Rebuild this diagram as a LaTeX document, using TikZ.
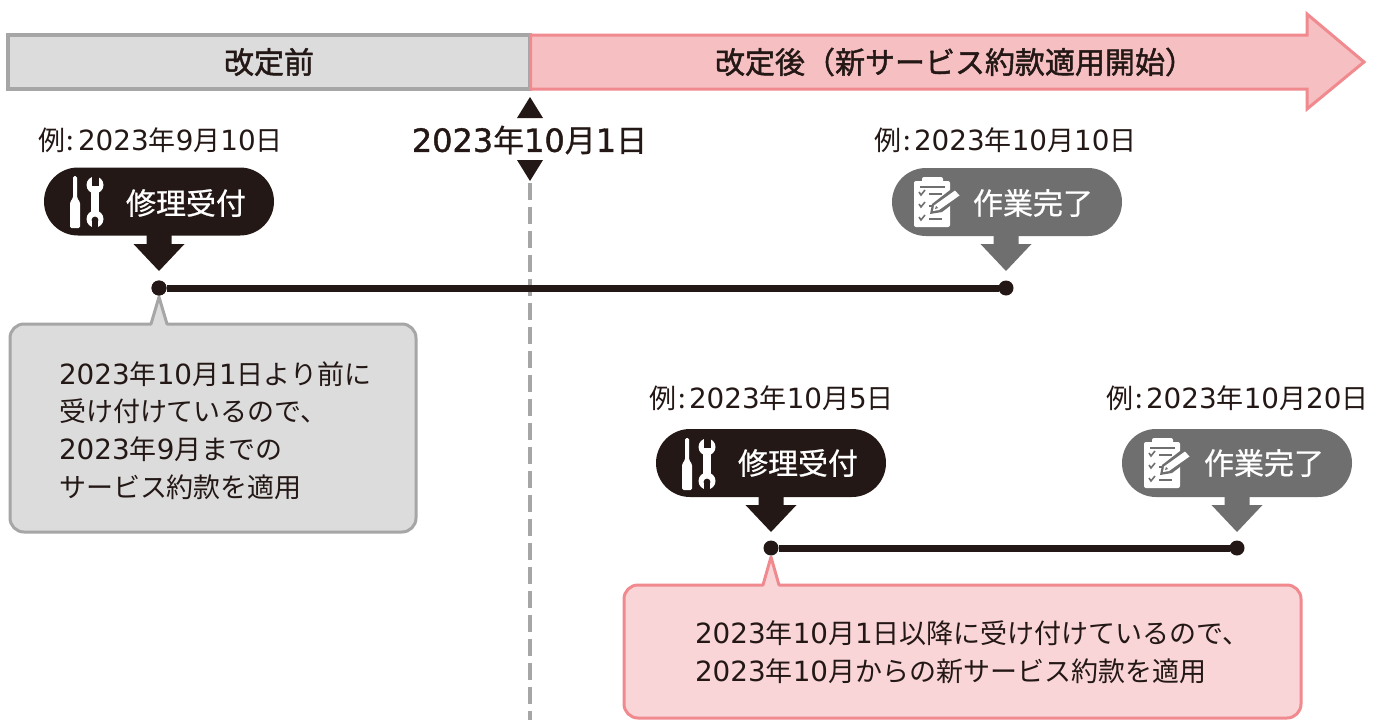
\documentclass[tikz,border=0pt]{standalone}
\usepackage{fontspec}
\setmainfont{Noto Sans CJK JP}
\newfontfamily\medf[FakeBold=1.5]{Noto Sans CJK JP}
\newfontfamily\semif[FakeBold=0.7]{Noto Sans CJK JP}
\newfontfamily\digf[Scale=1.03]{DejaVu Sans}
\newfontfamily\meddig[FakeBold=1.2,Scale=1.03]{DejaVu Sans}
\newcommand{\Dg}[1]{{\digf #1}}
\newcommand{\Dm}[1]{{\meddig #1}}
\newcommand{\Rei}{例\hspace{2pt}:\hspace{3.5pt}}
\usetikzlibrary{calc}
\definecolor{ink}{HTML}{231815}
\definecolor{midgray}{HTML}{6F6F6F}
\definecolor{linegray}{HTML}{A6A6A6}
\definecolor{fillgray}{HTML}{DCDCDC}
\definecolor{linepink}{HTML}{F08A8F}
\definecolor{barpink}{HTML}{F6C0C3}
\definecolor{boxpink}{HTML}{F9D5D8}
\tikzset{
  x=1pt,y=-1pt,
  every node/.style={inner sep=0pt,outer sep=0pt,text=ink},
  datetext/.style={font=\fontsize{27}{30}\selectfont,anchor=west},
  bodytext/.style={font=\fontsize{27}{37.6}\selectfont,align=left,anchor=west},
  bartext/.style={font=\fontsize{30}{32}\medf},
  pilltext/.style={font=\fontsize{30}{32}\semif,text=white},
  darkpill/.style={draw=none,fill=ink,rounded corners=34pt,minimum width=230pt,minimum height=68pt},
  graypill/.style={draw=none,fill=midgray,rounded corners=34pt,minimum width=230pt,minimum height=68pt},
  spanline/.style={line width=7pt,draw=ink},
  dotnode/.style={circle,fill=ink,minimum size=15pt},
  tool/.pic={
    % screwdriver
    \fill[white,rounded corners=1.5pt] (29,9) -- (33,9) -- (33,31) -- (36,35) -- (36,61) -- (26,61) -- (26,35) -- (29,31) -- cycle;
    % wrench
    \fill[white] (47,20) rectangle (55,50);
    \fill[white] (51,18) circle (8.5);
    \fill[white] (51,52) circle (8.5);
    \fill[ink] (47.5,9) rectangle (54.5,19);
    \fill[ink] (51,53) circle (3.4);
    \fill[ink] (48,53) rectangle (54,62);
  },
  clip board/.pic={
    \fill[white,rounded corners=2pt] (22,13) rectangle (58,59);
    \fill[white,rounded corners=2pt] (30,9) rectangle (51,18);
    \fill[midgray] (28,17.5) rectangle (53,19.5);
    \draw[midgray,line width=1.6pt] (27,24) -- (29,27) -- (33,22);
    \draw[midgray,line width=1.6pt] (27,36) -- (29,39) -- (33,34);
    \draw[midgray,line width=1.6pt] (27,49) -- (29,52) -- (33,47);
    \draw[midgray,line width=1.6pt] (37,26) -- (50,26);
    \draw[midgray,line width=1.6pt] (37,38) -- (42,38);
    \draw[midgray,line width=1.6pt] (37,51) -- (50,51);
    \fill[midgray] (38,46) -- (40,36) -- (62,19) -- (71,28) -- (50,44) -- cycle;
    \fill[white] (41,43) -- (42,37.5) -- (63,22.5) -- (67.5,27.5) -- (47,42) -- cycle;
    \fill[midgray] (43,41) -- (44,38) -- (46,40) -- cycle;
  },
}
\newcommand{\downarrowshape}[3]{% x, top y, colour
  \fill[#3] (#1-12.5,#2) -- (#1+12.5,#2) -- (#1+12.5,#2+9) -- (#1+25.5,#2+9) -- (#1,#2+36) -- (#1-25.5,#2+9) -- (#1-12.5,#2+9) -- cycle;
}
\begin{document}
\begin{tikzpicture}
\useasboundingbox (0,0) rectangle (1382,720);
\fill[white] (0,0) rectangle (1382,720);

% dashed boundary
\coordinate (dashtop) at (530,183);
\coordinate (dashend) at (530,720);
\draw[linegray,line width=3.5pt,dash pattern=on 17pt off 7pt] (dashtop) -- (dashend);

% top bar
\draw[draw=linegray,fill=fillgray,line width=3.5pt] (8,35) rectangle (530,89);
\draw[draw=linepink,fill=barpink,line width=3pt,line join=miter]
  (530.5,35) -- (1307,35) -- (1307,14) -- (1364,62) -- (1307,109) -- (1307,89) -- (530.5,89) -- cycle;
\node[bartext] (before) at (269,62) {改定前};
\node[bartext] (after) at (955,62) {改定後（新サービス約款適用開始）};

% boundary date
\fill[ink] (530,97) -- (543,118) -- (517,118) -- cycle;
\fill[ink] (530,181) -- (543,160) -- (517,160) -- cycle;
\node[font=\fontsize{31}{32}\semif] (boundary) at (529.5,140) {\Dm{2023}年\Dm{10}月\Dm{1}日};

% date labels
\node[datetext] (d1) at (38,140) {\Rei\Dg{2023}年\Dg{9}月\Dg{10}日};
\node[datetext] (d2) at (874,140) {\Rei\Dg{2023}年\Dg{10}月\Dg{10}日};
\node[datetext] (d3) at (649,398) {\Rei\Dg{2023}年\Dg{10}月\Dg{5}日};
\node[datetext] (d4) at (1106,398) {\Rei\Dg{2023}年\Dg{10}月\Dg{20}日};

% first row
\downarrowshape{159}{235}{ink}
\downarrowshape{1006}{235}{midgray}
\node[darkpill] (p1) at (159,201.5) {};
\node[graypill] (p2) at (1007,202) {};
\pic at (44,167) {tool};
\pic at (892,168) {clip board};
\node[pilltext] (p1t) at (186,203) {修理受付};
\node[pilltext] (p2t) at (1033,203) {作業完了};
\node[dotnode] (a1) at (159,288) {};
\node[dotnode] (a2) at (1006,288) {};
\draw[spanline] (a1) -- (a2);

% second row
\downarrowshape{771}{496}{ink}
\downarrowshape{1237}{496}{midgray}
\node[darkpill] (p3) at (771,463) {};
\node[graypill] (p4) at (1237,463) {};
\pic at (656,429) {tool};
\pic at (1122,429) {clip board};
\node[pilltext] (p3t) at (798,463) {修理受付};
\node[pilltext] (p4t) at (1264,463) {作業完了};
\node[dotnode] (b1) at (771,548) {};
\node[dotnode] (b2) at (1237,548) {};
\draw[spanline] (b1) -- (b2);

% callouts
\draw[draw=linegray,fill=fillgray,line width=3pt,line join=round]
  (24,324) -- (151,324) -- (159,297) -- (167,324) -- (402,324)
  arc[start angle=90,end angle=0,x radius=14,y radius=-14] -- (416,518)
  arc[start angle=0,end angle=-90,x radius=14,y radius=-14] -- (24,532)
  arc[start angle=-90,end angle=-180,x radius=14,y radius=-14] -- (10,338)
  arc[start angle=180,end angle=90,x radius=14,y radius=-14] -- cycle;
\node[dotnode] at (a1) {};
\node[bodytext] (t1) at (59,430.5) {\Dg{2023}年\Dg{10}月\Dg{1}日より前に\\受け付けているので、\\\Dg{2023}年\Dg{9}月までの\\サービス約款を適用};

\draw[draw=linepink,fill=boxpink,line width=3pt,line join=round]
  (638,585) -- (763,585) -- (771,557) -- (779,585) -- (1287,585)
  arc[start angle=90,end angle=0,x radius=14,y radius=-14] -- (1301,704)
  arc[start angle=0,end angle=-90,x radius=14,y radius=-14] -- (638,718)
  arc[start angle=-90,end angle=-180,x radius=14,y radius=-14] -- (624,599)
  arc[start angle=180,end angle=90,x radius=14,y radius=-14] -- cycle;
\node[bodytext] (t2) at (695,652.5) {\Dg{2023}年\Dg{10}月\Dg{1}日以降に受け付けているので、\\\Dg{2023}年\Dg{10}月からの新サービス約款を適用};
\end{tikzpicture}
\end{document}
